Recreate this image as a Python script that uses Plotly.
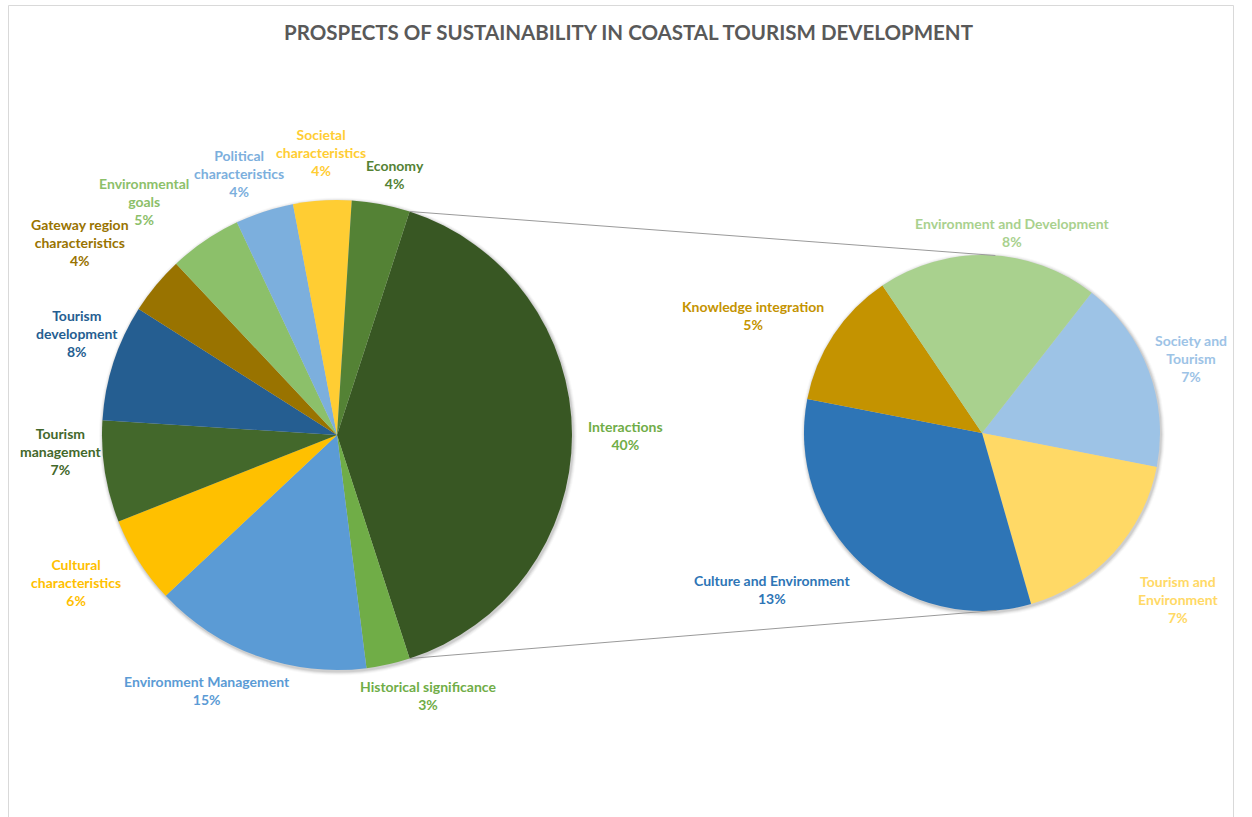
import math
import plotly.graph_objects as go

# ---------------- data ----------------
TITLE = "PROSPECTS OF SUSTAINABILITY IN COASTAL TOURISM DEVELOPMENT"

main_labels = [
    "Interactions", "Historical significance", "Environment Management",
    "Cultural characteristics", "Tourism management", "Tourism development",
    "Gateway region characteristics", "Environmental goals",
    "Political characteristics", "Societal characteristics", "Economy",
]
main_values = [40, 3, 15, 6, 7, 8, 4, 5, 4, 4, 4]
main_display = [
    "Interactions", "Historical significance", "Environment Management",
    "Cultural<br>characteristics", "Tourism<br>management", "Tourism<br>development",
    "Gateway region<br>characteristics", "Environmental<br>goals",
    "Political<br>characteristics", "Societal<br>characteristics", "Economy",
]

# breakdown of the "Interactions" share
detail_labels = [
    "Society and Tourism", "Tourism and Environment", "Culture and Environment",
    "Knowledge integration", "Environment and Development",
]
detail_values = [7, 7, 13, 5, 8]
detail_display = [
    "Society and<br>Tourism", "Tourism and<br>Environment", "Culture and Environment",
    "Knowledge integration", "Environment and Development",
]

# ---------------- styles ----------------
main_colors = ["#385723", "#70AD47", "#5B9BD5", "#FFC000", "#43682B", "#255E91",
               "#997300", "#8CC06A", "#7CAFDD", "#FFCD33", "#548235"]
main_text_colors = ["#70AD47", "#70AD47", "#5B9BD5", "#FFC000", "#43682B", "#255E91",
                    "#997300", "#8CC06A", "#7CAFDD", "#FFCD33", "#548235"]
detail_colors = ["#9DC3E6", "#FFD966", "#2E75B6", "#C49300", "#A9D18E"]

# label placement: (angle shift from slice middle in degrees, distance from centre in px)
main_label_place = [(0, 288), (-6.7, 276), (7.1, 287), (3.0, 300), (5.5, 277), (3.4, 279),
                    (-2.7, 321), (-5.4, 303), (-2.6, 279), (0.4, 283), (1.7, 267)]
detail_label_place = [(1.0, 222), (-2.2, 257), (10.7, 262), (-6.4, 257), (6.5, 203)]

W, H = 1252, 817
FONT = "Lato"
MAIN = dict(cx=337, cy=435, r=235)
DETAIL = dict(cx=982, cy=433, r=178)
DETAIL_ROTATION = 38

main_total = sum(main_values)
other_share = main_values[0] / main_total
MAIN_ROTATION = 90 - 360 * other_share / 2   # "Interactions" centred at 3 o'clock


def domain(g):
    return dict(x=[(g["cx"] - g["r"]) / W, (g["cx"] + g["r"]) / W],
                y=[1 - (g["cy"] + g["r"]) / H, 1 - (g["cy"] - g["r"]) / H])


def polar(g, ang, dist):
    a = math.radians(ang)
    return g["cx"] + dist * math.sin(a), g["cy"] - dist * math.cos(a)


def mid_angles(values, rotation):
    tot = sum(values)
    out, start = [], rotation
    for v in values:
        span = 360 * v / tot
        out.append(start + span / 2)
        start += span
    return out


fig = go.Figure()

for labels, values, colors, g, rot in [
    (main_labels, main_values, main_colors, MAIN, MAIN_ROTATION),
    (detail_labels, detail_values, detail_colors, DETAIL, DETAIL_ROTATION),
]:
    fig.add_trace(go.Pie(
        labels=labels, values=values, sort=False, direction="clockwise",
        rotation=rot, domain=domain(g), textinfo="none",
        marker=dict(colors=colors, line=dict(width=0)),
        showlegend=False, hoverinfo="label+value",
    ))

shapes = []
# soft drop shadow under both pies
for g in (MAIN, DETAIL):
    for k, op in [(4, 0.025), (3, 0.04), (2, 0.06), (1, 0.08)]:
        cx, cy, r = g["cx"] + 1, g["cy"] + 1.5, g["r"] + k
        shapes.append(dict(type="circle", xref="paper", yref="paper", layer="below",
                           x0=(cx - r) / W, x1=(cx + r) / W,
                           y0=1 - (cy + r) / H, y1=1 - (cy - r) / H,
                           fillcolor=f"rgba(0,0,0,{op})", line=dict(width=0)))

# connector lines: edges of the "Interactions" slice tangent to the detail pie
edge_angles = [MAIN_ROTATION, MAIN_ROTATION + 360 * other_share]
for i, ang in enumerate(edge_angles):
    px, py = polar(MAIN, ang, MAIN["r"])
    vx, vy = px - DETAIL["cx"], py - DETAIL["cy"]
    d = math.hypot(vx, vy)
    alpha = math.acos(DETAIL["r"] / d)
    base = math.atan2(vy, vx)
    cands = []
    for s in (1, -1):
        t = base + s * alpha
        cands.append((DETAIL["cx"] + DETAIL["r"] * math.cos(t),
                      DETAIL["cy"] + DETAIL["r"] * math.sin(t)))
    tx, ty = min(cands, key=lambda p: p[1]) if i == 0 else max(cands, key=lambda p: p[1])
    shapes.append(dict(type="line", xref="paper", yref="paper",
                       x0=px / W, y0=1 - py / H, x1=tx / W, y1=1 - ty / H,
                       line=dict(color="#9A9A9A", width=1)))

# chart frame
shapes.append(dict(type="rect", xref="paper", yref="paper",
                   x0=8.5 / W, x1=1233.5 / W, y0=-0.02, y1=1 - 5.5 / H,
                   line=dict(color="#D9D9D9", width=1), fillcolor="rgba(0,0,0,0)"))

annotations = []
for disp, values, colors, place, g, rot in [
    (main_display, main_values, main_text_colors, main_label_place, MAIN, MAIN_ROTATION),
    (detail_display, detail_values, detail_colors, detail_label_place, DETAIL, DETAIL_ROTATION),
]:
    for name, v, col, (da, dist), mid in zip(disp, values, colors, place, mid_angles(values, rot)):
        x, y = polar(g, mid + da, dist)
        pct = round(100 * v / main_total)
        annotations.append(dict(
            x=x / W, y=1 - y / H, xref="paper", yref="paper",
            xanchor="center", yanchor="middle", showarrow=False, align="center",
            text=f"<b>{name}<br>{pct}%</b>",
            font=dict(family=FONT, size=14, color=col),
        ))

annotations.append(dict(
    x=629 / W, y=1 - 32 / H, xref="paper", yref="paper",
    xanchor="center", yanchor="middle", showarrow=False,
    text=f"<b>{TITLE}</b>", font=dict(family=FONT, size=20.5, color="#595959"),
))

fig.update_layout(
    width=W, height=H, autosize=False,
    margin=dict(l=0, r=0, t=0, b=0),
    paper_bgcolor="white", plot_bgcolor="white",
    shapes=shapes, annotations=annotations,
)

fig.write_html("out.html")
